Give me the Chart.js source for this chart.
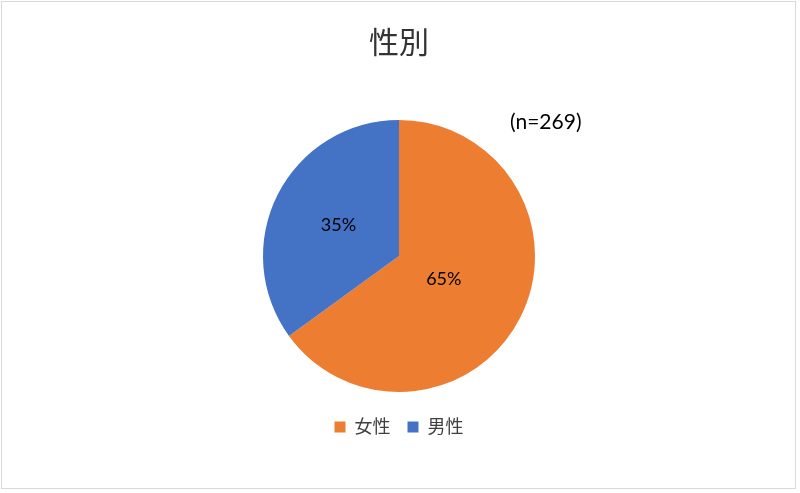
<!DOCTYPE html>
<html><head><meta charset="utf-8">
<script src="https://cdn.jsdelivr.net/npm/chart.js@4/dist/chart.umd.min.js"></script>
<style>html,body{margin:0;padding:0;background:#fff;}#wrap{width:800px;height:493px;}</style>
</head><body><div id="wrap"><canvas id="c" width="800" height="493"></canvas></div>
<script>
const categories = ['女性', '男性'];
const values = [65, 35];
const colors = ['#ED7D31', '#4472C4'];
const titleText = '性別';
const noteText = '(n=269)';
const labelRadiusFrac = [0.37, 0.5];
const FONT = 'Lato, "Noto Sans CJK JP", sans-serif';

const framePlugin = {
  id: 'frame',
  beforeDraw(chart) {
    const ctx = chart.ctx;
    ctx.save();
    ctx.fillStyle = '#ffffff';
    ctx.fillRect(0, 0, chart.width, chart.height);
    ctx.strokeStyle = '#d9d9d9';
    ctx.lineWidth = 1;
    ctx.strokeRect(1.5, 1.5, 794, 487);
    ctx.restore();
  }
};
const labelPlugin = {
  id: 'labels',
  afterDatasetsDraw(chart) {
    const ctx = chart.ctx;
    const meta = chart.getDatasetMeta(0);
    const total = values.reduce((a, b) => a + b, 0);
    ctx.save();
    ctx.font = '18px ' + FONT;
    ctx.fillStyle = '#000000';
    ctx.textAlign = 'center';
    ctx.textBaseline = 'middle';
    meta.data.forEach((arc, i) => {
      const p = arc.getProps(['x', 'y', 'startAngle', 'endAngle', 'outerRadius'], true);
      const a = (p.startAngle + p.endAngle) / 2;
      const r = p.outerRadius * labelRadiusFrac[i];
      ctx.fillText(Math.round(values[i] / total * 100) + '%', p.x + Math.cos(a) * r, p.y + Math.sin(a) * r);
    });
    const a0 = meta.data[0].getProps(['x', 'y', 'outerRadius'], true);
    ctx.font = '21px ' + FONT;
    ctx.textAlign = 'left';
    ctx.fillText(noteText, a0.x + 111, a0.y - a0.outerRadius + 2);
    ctx.restore();
  }
};

new Chart(document.getElementById('c'), {
  type: 'pie',
  data: {
    labels: categories,
    datasets: [{ data: values, backgroundColor: colors, borderWidth: 0 }]
  },
  options: {
    responsive: false,
    animation: false,
    layout: { padding: { top: 8, bottom: 47, left: 263, right: 265 } },
    plugins: {
      title: {
        display: true, text: titleText, color: '#333333',
        font: { family: FONT, size: 30, weight: 'normal' },
        padding: { top: 17, bottom: 50 }
      },
      legend: {
        position: 'bottom',
        labels: {
          color: '#404040', font: { family: FONT, size: 18 },
          boxWidth: 11, boxHeight: 11, padding: 17
        }
      },
      tooltip: { enabled: false }
    }
  },
  plugins: [framePlugin, labelPlugin]
});
</script></body></html>
